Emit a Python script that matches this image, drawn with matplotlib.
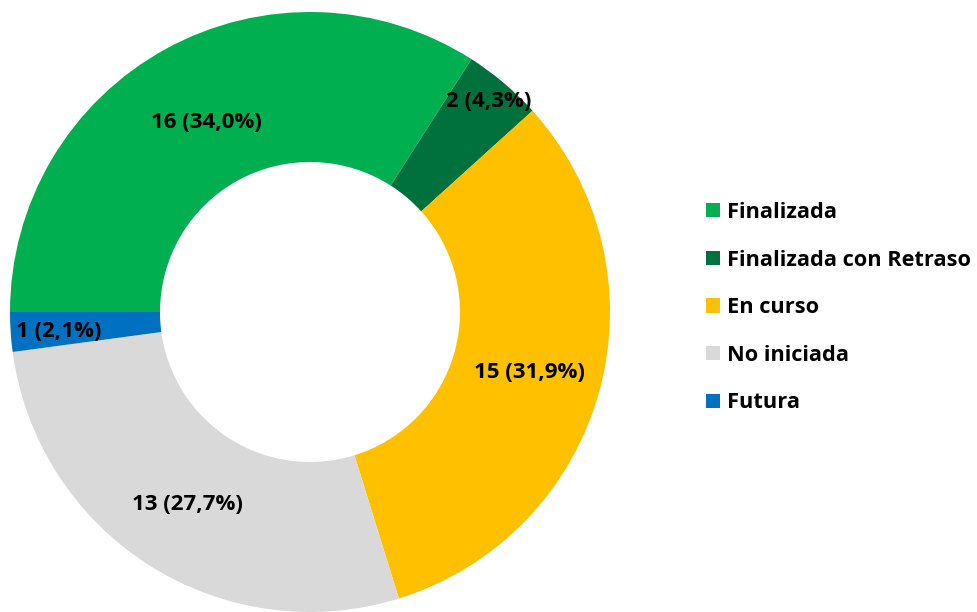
import matplotlib
matplotlib.use("Agg")
import matplotlib.pyplot as plt
import numpy as np

estados = ["Finalizada", "Finalizada con Retraso", "En curso", "No iniciada", "Futura"]
cantidades = [16, 2, 15, 13, 1]
colores = ["#00B050", "#00703C", "#FFC000", "#D9D9D9", "#0070C0"]

plt.rcParams["font.family"] = ["Open Sans", "DejaVu Sans"]
plt.rcParams["font.weight"] = "bold"

fig = plt.figure(figsize=(9.77, 6.12), dpi=100)
ax = fig.add_axes([10 / 977, 0, 600 / 977, 600 / 612])

wedges, _ = ax.pie(cantidades, colors=colores, startangle=180, counterclock=False,
                   wedgeprops=dict(width=0.5, edgecolor="none"))
ax.set_xlim(-1, 1)
ax.set_ylim(-1, 1)
ax.set_aspect("equal")
ax.axis("off")

total = sum(cantidades)
radios = [0.72, 0.92, 0.76, 0.76, 0.84]
for w, n, r in zip(wedges, cantidades, radios):
    ang = np.deg2rad((w.theta1 + w.theta2) / 2)
    if n == 1:
        ang = np.deg2rad(184.5)
    pct = f"{n / total * 100:.1f}".replace(".", ",")
    ax.text(r * np.cos(ang), r * np.sin(ang), f"{n} ({pct}%)", ha="center", va="center",
            fontsize=16, fontweight="bold", color="black", clip_on=False)

fig.legend(wedges, estados, loc="upper left", bbox_to_anchor=(706 / 977, 1 - 202 / 612),
           frameon=False, borderpad=0, borderaxespad=0, handlelength=0.62, handleheight=0.62,
           handletextpad=0.35, labelspacing=1.22, prop=dict(weight="bold", size=15.7))

fig.savefig("out.png", dpi=100)
